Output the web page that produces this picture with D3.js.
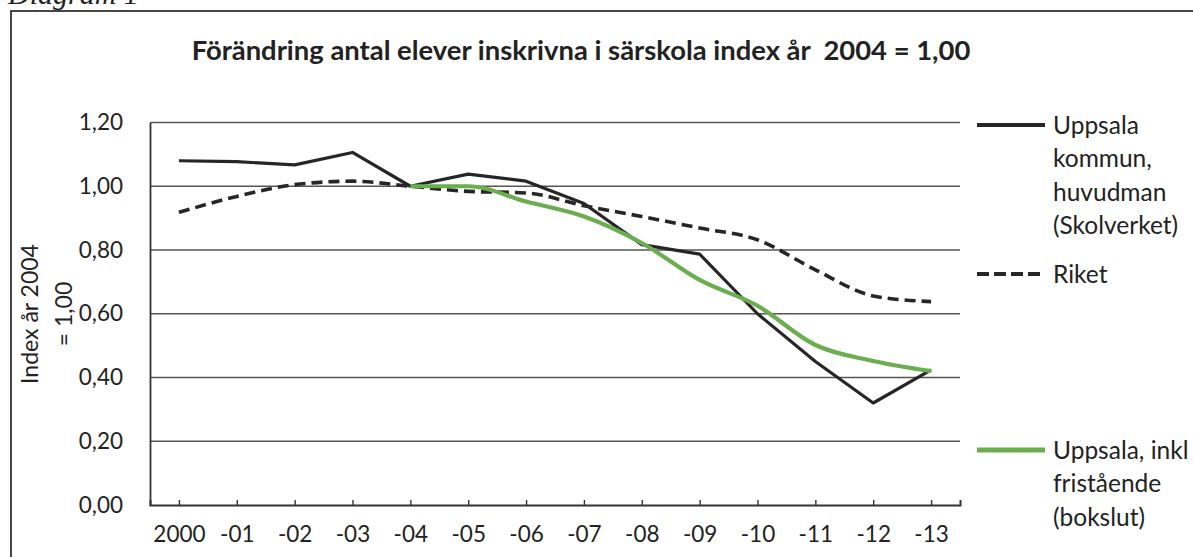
<!DOCTYPE html>
<html>
<head>
<meta charset="utf-8">
<script src="https://cdn.jsdelivr.net/npm/d3@7.9.0/dist/d3.min.js"></script>
<style>
  html, body { margin: 0; padding: 0; background: #fff; }
  svg { display: block; font-family: Lato, 'Open Sans', sans-serif; }
</style>
</head>
<body>
<svg id="chart" width="1193" height="557"></svg>
<script>
const years = ['2000', '-01', '-02', '-03', '-04', '-05', '-06', '-07', '-08', '-09', '-10', '-11', '-12', '-13'];
const yTicks = [0, 0.2, 0.4, 0.6, 0.8, 1.0, 1.2];

const uppsalaKommun = [1.08, 1.077, 1.067, 1.106, 1.0, 1.038, 1.016, 0.946, 0.817, 0.787, 0.60, 0.45, 0.32, 0.424];
const riket = [0.918, 0.968, 1.005, 1.016, 1.0, 0.984, 0.979, 0.939, 0.905, 0.869, 0.832, 0.738, 0.656, 0.638];
const uppsalaInkl = [null, null, null, null, 1.0, 1.0, 0.952, 0.905, 0.822, 0.706, 0.625, 0.502, 0.452, 0.42];

const series = [
  { name: ['Uppsala', 'kommun,', 'huvudman', '(Skolverket)'], values: uppsalaKommun, color: '#262626', width: 3.2, dash: null, curve: d3.curveLinear, legendY: 125 },
  { name: ['Riket'], values: riket, color: '#262626', width: 3.6, dash: '11,6', curve: d3.curveMonotoneX, legendY: 274 },
  { name: ['Uppsala, inkl', 'fristående', '(bokslut)'], values: uppsalaInkl, color: '#6aae4f', width: 4.2, dash: null, curve: d3.curveMonotoneX, legendY: 450 },
];

const svg = d3.select('#chart');
const plot = { left: 150, right: 960, top: 122.5, bottom: 505 };

// frame and cut-off caption above it
svg.append('text')
  .attr('x', 8)
  .attr('y', 4)
  .attr('font-family', "'Liberation Serif', serif")
  .attr('font-style', 'italic')
  .attr('font-size', 30)
  .attr('fill', '#222')
  .text('Diagram 1');

svg.append('rect')
  .attr('x', 11)
  .attr('y', 11)
  .attr('width', 1200)
  .attr('height', 600)
  .attr('fill', 'none')
  .attr('stroke', '#333')
  .attr('stroke-width', 1.8);

const x = d3.scalePoint().domain(years).range([plot.left, plot.right]).padding(0.5);
const y = d3.scaleLinear().domain([0, 1.2]).range([plot.bottom, plot.top]);

svg.append('text')
  .attr('x', 581)
  .attr('y', 60)
  .attr('text-anchor', 'middle')
  .attr('font-size', 27.4)
  .attr('font-weight', 'bold')
  .attr('fill', '#222')
  .attr('xml:space', 'preserve')
  .text('Förändring antal elever inskrivna i särskola index år  2004 = 1,00');

// gridlines
svg.append('g')
  .selectAll('line')
  .data(yTicks.filter((d) => d > 0))
  .join('line')
  .attr('x1', plot.left)
  .attr('x2', plot.right)
  .attr('y1', (d) => y(d))
  .attr('y2', (d) => y(d))
  .attr('stroke', '#555')
  .attr('stroke-width', 1.6);

// y axis
const yAxis = svg.append('g')
  .attr('transform', `translate(${plot.left},0)`)
  .call(d3.axisLeft(y).tickValues(yTicks).tickSize(0).tickPadding(27)
    .tickFormat((d) => d3.format('.2f')(d).replace('.', ',')));
yAxis.select('.domain').attr('stroke', '#333').attr('stroke-width', 1.8);
yAxis.selectAll('text').attr('font-size', 22.5).attr('fill', '#222').attr('font-family', 'Lato, sans-serif');

// x axis
const xAxis = svg.append('g')
  .attr('transform', `translate(0,${plot.bottom})`)
  .call(d3.axisBottom(x).tickSize(-5).tickPadding(21));
xAxis.select('.domain').attr('stroke', '#333').attr('stroke-width', 2);
xAxis.selectAll('.tick line').attr('stroke', '#333').attr('stroke-width', 1.4);
xAxis.selectAll('text').attr('font-size', 22.5).attr('fill', '#222').attr('font-family', 'Lato, sans-serif');

// y axis title
const yTitle = svg.append('text')
  .attr('transform', 'translate(30,314) rotate(-90)')
  .attr('text-anchor', 'middle')
  .attr('font-size', 23)
  .attr('fill', '#222');
yTitle.append('tspan').attr('x', 0).attr('dy', '0.35em').text('Index år 2004');
yTitle.append('tspan').attr('x', 0).attr('dy', 34).text('= 1,00');

// lines
for (const s of series) {
  const line = d3.line()
    .defined((d) => d != null)
    .x((d, i) => x(years[i]))
    .y((d) => y(d))
    .curve(s.curve);
  svg.append('path')
    .datum(s.values)
    .attr('d', line)
    .attr('fill', 'none')
    .attr('stroke', s.color)
    .attr('stroke-width', s.width)
    .attr('stroke-linejoin', 'round')
    .attr('stroke-dasharray', s.dash);
}

// legend
const legend = svg.append('g');
for (const s of series) {
  legend.append('line')
    .attr('x1', 977)
    .attr('x2', 1045)
    .attr('y1', s.legendY)
    .attr('y2', s.legendY)
    .attr('stroke', s.color)
    .attr('stroke-width', s.width + 0.6)
    .attr('stroke-dasharray', s.dash ? '12,5' : null);
  const t = legend.append('text')
    .attr('x', 1053)
    .attr('y', s.legendY)
    .attr('font-size', 24.5)
    .attr('fill', '#222');
  s.name.forEach((n, i) => {
    t.append('tspan')
      .attr('x', 1053)
      .attr('dy', i === 0 ? '0.35em' : 33.5)
      .text(n);
  });
}
</script>
</body>
</html>
